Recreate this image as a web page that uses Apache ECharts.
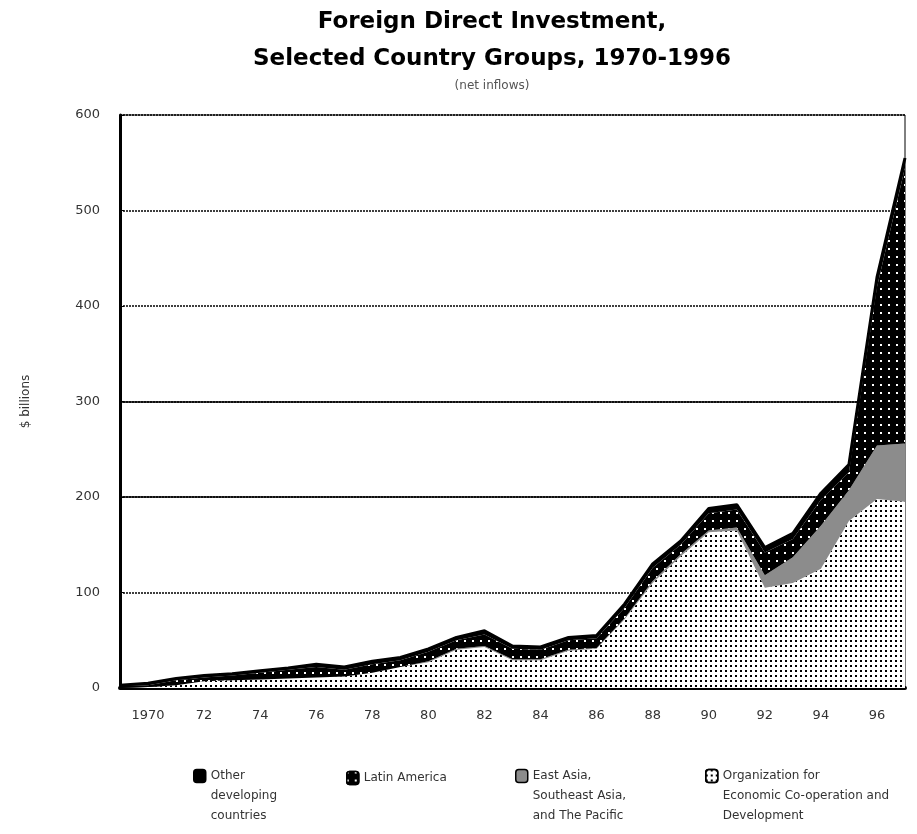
<!DOCTYPE html>
<html>
<head>
<meta charset="utf-8">
<title>Foreign Direct Investment, Selected Country Groups</title>
<script src="https://cdn.jsdelivr.net/npm/echarts@6/dist/echarts.min.js"></script>
<style>
html,body{margin:0;padding:0;background:#fff;}
#chart{width:917px;height:834px;}
</style>
</head>
<body>
<div id="chart"></div>
<script>
// years on the category axis (labels shown for even years from 1970)
var years = [1969,1970,1971,1972,1973,1974,1975,1976,1977,1978,1979,1980,1981,1982,1983,
	1984,1985,1986,1987,1988,1989,1990,1991,1992,1993,1994,1995,1996,1997];

// net inflows, $ billions (bottom to top)
var oecd = [0,1,3,7,8,9,10,11,12,16,22,27,40,43,29,29,39,41,72,110,138,163,165,105,110,125,175,198,195];
var eastAsia = [0,0,0,0,0,0,0,0,0,0,0,1,1,1,1,1,1,1,1,2,2,2,3,13,27,45,32,56,61];
var latinAm = [2,2,5,4,5,7,9,11,7,9,7,10,9,12,11,10,10,10,11,14,10,18,19,24,19,27,19,166,289];
var otherDev = [1,2,2,2,2,2,2,3,3,3,3,3,3,4,3,3,3,3,4,4,4,5,5,5,6,7,8,10,10];

var seriesNames = ["Other developing countries","Latin America","East Asia, Southeast Asia, and The Pacific","Organization for Economic Co-operation and Development"];
var legendLabels = ["Other\ndeveloping\ncountries","Latin America","East Asia,\nSoutheast Asia,\nand The Pacific","Organization for\nEconomic Co-operation and\nDevelopment"];
var solidGrid = [200,300];

var font = "DejaVu Sans";
var chart = echarts.init(document.getElementById("chart"));

function legendAt(i, left, top){
	return {
		data:[seriesNames[i]], left:left, top:top, padding:0, orient:"vertical",
		icon:"roundRect", itemWidth:12, itemHeight:13, selectedMode:false,
		itemStyle:{borderColor:"#000",borderWidth:1.5},
		textStyle:{fontFamily:font,fontSize:12,color:"#333",lineHeight:20},
		formatter:function(){
			var t = legendLabels[i];
			return t.indexOf("\n")>=0 ? "\n\n"+t : t;
		}
	};
}

var option = {
	animation:false,
	backgroundColor:"#fff",
	title:{
		text:"Foreign Direct Investment,\nSelected Country Groups, 1970-1996",
		subtext:"(net inflows)",
		left:487, top:-1, textAlign:"center", itemGap:0,
		textStyle:{fontFamily:font,fontWeight:"bold",fontSize:23,lineHeight:37,color:"#000"},
		subtextStyle:{fontFamily:font,fontSize:12,color:"#555",lineHeight:16}
	},
	legend:[
		legendAt(0,193,726),
		legendAt(1,346,768),
		legendAt(2,515,726),
		legendAt(3,705,726)
	],
	grid:{left:120,right:12,top:115,bottom:146,show:true,borderColor:"#000",borderWidth:1},
	xAxis:{
		type:"category", data:years, boundaryGap:false,
		axisLine:{lineStyle:{color:"#000",width:4}},
		axisTick:{show:false},
		axisLabel:{
			fontFamily:font,fontSize:13,color:"#333",margin:21,
			interval:function(idx,val){ return +val>=1970 && +val%2===0; },
			formatter:function(val){ return +val===1970 ? "1970" : String(val).slice(2); }
		},
		splitLine:{show:false}
	},
	yAxis:{
		type:"value", min:0, max:600, interval:100,
		name:"$ billions", nameLocation:"middle", nameGap:88, nameRotate:90,
		nameTextStyle:{fontFamily:font,fontSize:12,color:"#333"},
		axisLine:{show:true,lineStyle:{color:"#000",width:3}},
		axisTick:{show:true,inside:true,length:4,lineStyle:{color:"#000"}},
		axisLabel:{fontFamily:font,fontSize:13,color:"#333",margin:20},
		splitLine:{show:true,lineStyle:{color:"#000",width:1.5,type:[2,1]}}
	},
	series:[
		{
			name:seriesNames[3], type:"line", stack:"fdi", data:oecd,
			symbol:"none", lineStyle:{width:0},
			itemStyle:{color:"#fff",decal:{symbol:"rect",symbolSize:1,color:"#000",dashArrayX:[1.5,3],dashArrayY:[1.5,2.5]}},
			areaStyle:{opacity:1},
			markLine:{
				silent:true, z:1, symbol:"none", label:{show:false},
				lineStyle:{color:"#000",width:1.5,type:"solid"},
				data:solidGrid.map(function(v){ return {yAxis:v}; })
			}
		},
		{
			name:seriesNames[2], type:"line", stack:"fdi", data:eastAsia,
			symbol:"none", lineStyle:{width:0},
			itemStyle:{color:"#8c8c8c"},
			areaStyle:{opacity:1}
		},
		{
			name:seriesNames[1], type:"line", stack:"fdi", data:latinAm,
			symbol:"none", lineStyle:{width:0},
			itemStyle:{color:"#000",decal:{symbol:"rect",symbolSize:1,color:"#fff",dashArrayX:[2,6],dashArrayY:[2,6]}},
			areaStyle:{opacity:1}
		},
		{
			name:seriesNames[0], type:"line", stack:"fdi", data:otherDev,
			symbol:"none", lineStyle:{width:3,color:"#000"},
			itemStyle:{color:"#000"},
			areaStyle:{opacity:1}
		}
	]
};
chart.setOption(option);
window.addEventListener("resize",function(){ chart.resize(); });
</script>
</body>
</html>
